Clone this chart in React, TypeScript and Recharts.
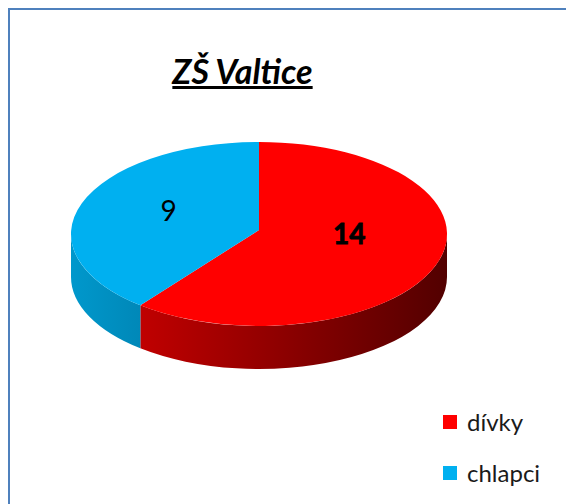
import React from "react";
import { PieChart, Pie, Cell, Legend } from "recharts";

// data
const categories = ["dívky", "chlapci"];
const values = [14, 9];
const boldLabels = [true, false];

// styles
const TOP_COLORS = ["#ff0000", "#00b0f0"];
const SIDE_COLORS: [string, string][] = [
  ["#c00000", "#520000"],
  ["#0098cc", "#0088b8"],
];
const SQUASH = 92 / 188;
const DEPTH = 43;
const FONT = "Lato, 'Open Sans', sans-serif";

const data = categories.map((name, i) => ({ name, value: values[i] }));

const RAD = Math.PI / 180;
const pt = (cx: number, cy: number, rx: number, ry: number, a: number) =>
  [cx + rx * Math.cos(a * RAD), cy - ry * Math.sin(a * RAD)] as const;

// front (visible) parts of the rim, in degrees
const FRONT = [
  [-540, -360],
  [-180, 0],
  [180, 360],
];

function Slice3D(props: any) {
  const { cx, cy, outerRadius, startAngle, endAngle, fill, midAngle } = props;
  const index = Math.max(0, TOP_COLORS.indexOf(fill));
  const rx = outerRadius;
  const ry = outerRadius * SQUASH;
  const lo = Math.min(startAngle, endAngle);
  const hi = Math.max(startAngle, endAngle);
  const gid = `side-${index}`;
  const sides: string[] = [];
  FRONT.forEach(([a, b]) => {
    const s = Math.max(lo, a);
    const e = Math.min(hi, b);
    if (e - s > 0.01) {
      const p1 = pt(cx, cy, rx, ry, s);
      const p2 = pt(cx, cy, rx, ry, e);
      sides.push(
        `M${p1[0]},${p1[1]} A${rx},${ry} 0 0 0 ${p2[0]},${p2[1]} ` +
          `L${p2[0]},${p2[1] + DEPTH} A${rx},${ry} 0 0 1 ${p1[0]},${p1[1] + DEPTH} Z`
      );
    }
  });
  // apex sits a little above the ellipse centre (perspective)
  const ay = cy - 4;
  const ps = pt(cx, cy, rx, ry, startAngle);
  const pe = pt(cx, cy, rx, ry, endAngle);
  const large = hi - lo > 180 ? 1 : 0;
  const sweep = startAngle > endAngle ? 1 : 0;
  const top = `M${cx},${ay} L${ps[0]},${ps[1]} A${rx},${ry} 0 ${large} ${sweep} ${pe[0]},${pe[1]} Z`;
  const [c1, c2] = SIDE_COLORS[index % SIDE_COLORS.length];

  // data label
  const mid = typeof midAngle === "number" ? midAngle : (startAngle + endAngle) / 2;
  const lx = cx + rx * 0.51 * Math.cos(mid * RAD);
  const ly = cy - 12.5 - ry * 0.373 * Math.sin(mid * RAD);
  const bold = boldLabels[index];
  const value = props.value ?? props.payload?.value ?? values[index];

  return (
    <g>
      <defs>
        <linearGradient id={gid} x1="0" y1="0" x2="1" y2="0">
          <stop offset="0%" stopColor={c1} />
          <stop offset="100%" stopColor={c2} />
        </linearGradient>
      </defs>
      {sides.map((d, i) => (
        <path key={i} d={d} fill={`url(#${gid})`} stroke="none" />
      ))}
      <path d={top} fill={fill} stroke="none" />
      <text
        x={lx}
        y={ly}
        textAnchor="middle"
        dominantBaseline="central"
        fill="#000"
        stroke={bold ? "#000" : "none"}
        strokeWidth={bold ? 0.8 : 0}
        fontFamily={FONT}
        fontSize={28}
        fontWeight={bold ? 700 : 400}
      >
        {value}
      </text>
    </g>
  );
}

function LegendContent(props: any) {
  const payload = [...(props.payload ?? [])].sort(
    (a: any, b: any) => categories.indexOf(a.value) - categories.indexOf(b.value)
  );
  return (
    <div>
      {payload.map((p: any) => (
        <div
          key={p.value}
          style={{ display: "flex", alignItems: "center", height: 51, fontFamily: FONT, fontSize: 24, color: "#1a1a1a" }}
        >
          <span style={{ width: 14, height: 14, background: p.color, marginRight: 10, display: "inline-block" }} />
          <span>{p.value}</span>
        </div>
      ))}
    </div>
  );
}

export default function App() {
  return (
    <div style={{ position: "absolute", left: 0, top: 0, width: 566, height: 504, overflow: "hidden", background: "#fff" }}>
      <div
        style={{
          position: "absolute",
          left: 8,
          top: 8,
          width: 700,
          height: 700,
          borderLeft: "2px solid #4f81bd",
          borderTop: "2px solid #4f81bd",
        }}
      />
      <div
        style={{
          position: "absolute",
          left: 0,
          width: 485,
          top: 50,
          textAlign: "center",
          fontFamily: FONT,
          fontSize: 34,
          fontWeight: 700,
          fontStyle: "italic",
          textDecoration: "underline",
          textDecorationThickness: 3,
          color: "#000",
        }}
      >
        ZŠ Valtice
      </div>
      <PieChart width={566} height={504} margin={{ top: 0, right: 0, bottom: 0, left: 0 }} style={{ position: "absolute", left: 0, top: 0 }}>
        <Pie
          data={data}
          dataKey="value"
          nameKey="name"
          cx={259}
          cy={234}
          outerRadius={188}
          startAngle={90}
          endAngle={-270}
          stroke="none"
          isAnimationActive={false}
          label={false}
          labelLine={false}
          shape={Slice3D}
        >
          {data.map((d, i) => (
            <Cell key={d.name} fill={TOP_COLORS[i]} />
          ))}
        </Pie>
        <Legend
          layout="vertical"
          content={LegendContent}
          wrapperStyle={{ position: "absolute", left: 443, top: 396, width: 120, right: "auto", bottom: "auto" }}
        />
      </PieChart>
    </div>
  );
}
